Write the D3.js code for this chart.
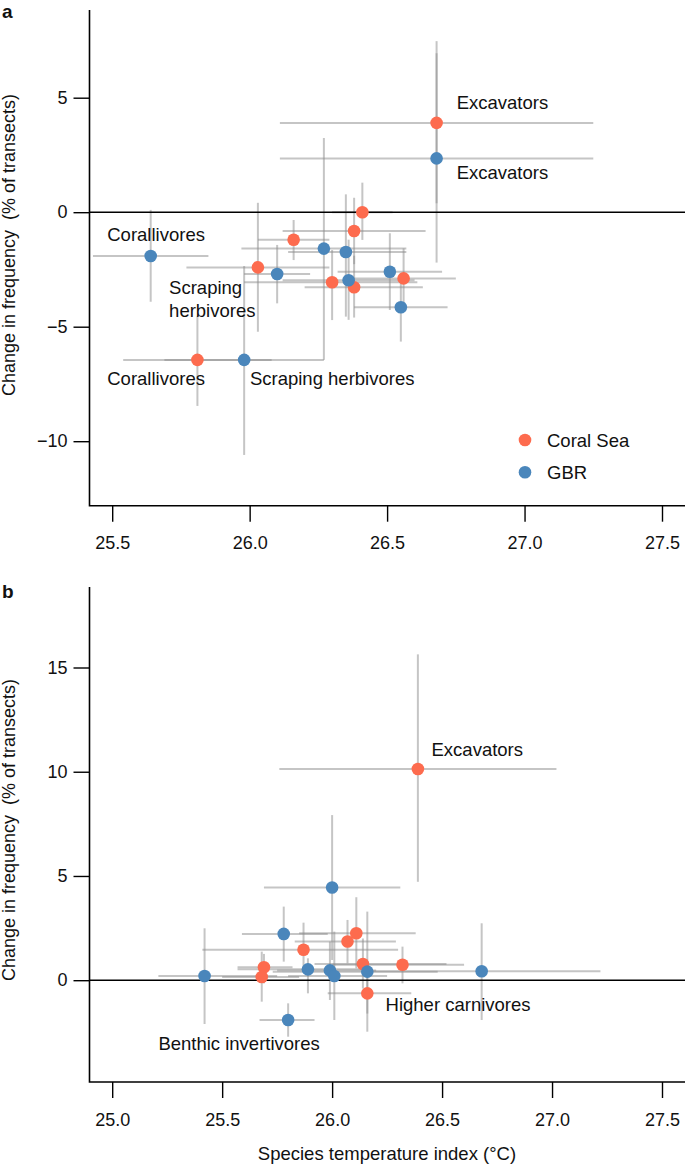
<!DOCTYPE html>
<html>
<head>
<meta charset="utf-8">
<script src="https://cdn.jsdelivr.net/npm/d3@7"></script>
<style>
  body { margin: 0; background: #fff; }
  svg text { font-family: "Liberation Sans", Arial, Helvetica, sans-serif; fill: #111; }
</style>
</head>
<body>
<script>
// each row: [sti, stiLo, stiHi, change, changeLo, changeHi]
const aCoralSea = [
  [26.68, 26.11, 27.25, 3.90, 0.39, 6.94],
  [26.41, 26.30, 26.52, 0.00, -1.21, 1.29],
  [26.38, 26.12, 26.64, -0.82, -2.27, 0.63],
  [26.16, 26.03, 26.29, -1.20, -2.09, -0.34],
  [26.03, 25.77, 26.29, -2.41, -5.22, 0.41],
  [26.30, 25.98, 26.61, -3.06, -4.71, -1.65],
  [26.38, 26.20, 26.63, -3.28, -4.60, -1.90],
  [26.56, 26.37, 26.75, -2.89, -4.13, -1.58],
  [25.81, 25.54, 26.08, -6.45, -8.46, -4.56]
];
const aGBR = [
  [26.68, 26.11, 27.25, 2.35, -2.20, 7.47],
  [26.27, 25.97, 26.57, -1.59, -6.45, 3.24],
  [26.35, 26.14, 26.57, -1.74, -4.56, 0.78],
  [26.10, 25.98, 26.22, -2.70, -3.98, -1.43],
  [26.36, 26.12, 26.60, -2.97, -4.70, -1.20],
  [26.51, 26.32, 26.70, -2.60, -4.27, -0.92],
  [26.55, 26.38, 26.72, -4.15, -5.65, -2.65],
  [25.64, 25.43, 25.85, -1.91, -3.91, 0.10],
  [25.98, 25.69, 26.27, -6.45, -10.6, -2.35]
];
const bCoralSea = [
  [26.39, 25.76, 27.02, 10.13, 4.72, 15.63],
  [26.11, 25.85, 26.38, 2.25, 0.57, 3.98],
  [26.07, 25.83, 26.29, 1.86, 0.81, 2.89],
  [25.87, 25.41, 26.30, 1.46, 0.49, 2.76],
  [25.69, 25.57, 25.82, 0.62, -0.15, 1.26],
  [25.68, 25.50, 25.85, 0.15, -1.03, 1.37],
  [26.14, 25.92, 26.52, 0.78, -0.40, 2.00],
  [26.32, 26.00, 26.60, 0.74, -0.15, 1.61],
  [26.16, 25.98, 26.36, -0.63, -1.60, 0.30]
];
const bGBR = [
  [26.00, 25.69, 26.31, 4.45, 0.97, 7.92],
  [25.78, 25.59, 25.98, 2.22, 0.89, 3.53],
  [25.42, 25.21, 25.75, 0.20, -2.10, 2.49],
  [25.89, 25.57, 26.17, 0.52, -0.63, 1.05],
  [25.99, 25.75, 26.20, 0.47, -0.95, 1.85],
  [26.01, 25.80, 26.25, 0.20, -1.91, 2.33],
  [26.16, 25.73, 26.48, 0.41, -2.47, 3.29],
  [25.80, 25.67, 25.92, -1.91, -2.71, -1.11],
  [26.68, 26.15, 27.22, 0.43, -1.91, 2.73]
];
// annotation text anchored at [sti, change]
const aNotes = [
  ["Excavators", 26.753, 4.49],
  ["Excavators", 26.753, 1.45],
  ["Corallivores", 25.482, -1.24],
  ["Corallivores", 25.482, -7.56],
  ["Scraping herbivores", 26.001, -7.55],
  ["Scraping", 25.707, -3.57],
  ["herbivores", 25.707, -4.58]
];
const bNotes = [
  ["Excavators", 26.452, 10.77],
  ["Higher carnivores", 26.243, -1.48],
  ["Benthic invertivores", 25.21, -3.35]
];
const aTicksX = [25.5, 26.0, 26.5, 27.0, 27.5];
const aTicksY = [-10, -5, 0, 5];
const bTicksX = [25.0, 25.5, 26.0, 26.5, 27.0, 27.5];
const bTicksY = [0, 5, 10, 15];
const regions = ["Coral Sea", "GBR"];
const colors = ["#fd6b4e", "#4a86bb"];

const W = 685, H = 1166;
const svg = d3.select("body").append("svg")
  .attr("width", W).attr("height", H);

const fmtY = d => d < 0 ? "\u2212" + Math.abs(d) : String(d);

function panel(opt) {
  const x = d3.scaleLinear().domain(opt.xDom).range([112.2, 662]);
  const y = d3.scaleLinear().domain(opt.yDom).range(opt.yRange);
  const g = svg.append("g");

  // error bars
  const bars = g.append("g")
    .attr("stroke", "#8c8c8c").attr("stroke-opacity", 0.5).attr("stroke-width", 2);
  opt.series.forEach(rows => {
    bars.selectAll(null).data(rows).enter().append("line")
      .attr("x1", d => x(d[1])).attr("x2", d => x(d[2]))
      .attr("y1", d => y(d[3])).attr("y2", d => y(d[3]));
    bars.selectAll(null).data(rows).enter().append("line")
      .attr("x1", d => x(d[0])).attr("x2", d => x(d[0]))
      .attr("y1", d => y(d[4])).attr("y2", d => y(d[5]));
  });

  // zero line
  g.append("line")
    .attr("x1", opt.left).attr("x2", W)
    .attr("y1", y(0)).attr("y2", y(0))
    .attr("stroke", "#000").attr("stroke-width", 1.6);

  // points
  opt.series.forEach((rows, i) => {
    g.append("g").selectAll("circle").data(rows).enter().append("circle")
      .attr("cx", d => x(d[0])).attr("cy", d => y(d[3]))
      .attr("r", 6.3)
      .attr("fill", colors[i]);
  });

  // axes
  const xAxis = g.append("g")
    .attr("transform", `translate(0,${opt.bottom})`)
    .call(d3.axisBottom(x).tickValues(opt.ticksX).tickFormat(d3.format(".1f"))
      .tickSize(16).tickPadding(15));
  const yAxis = g.append("g")
    .attr("transform", `translate(${opt.left},0)`)
    .call(d3.axisLeft(y).tickValues(opt.ticksY).tickFormat(fmtY)
      .tickSize(16).tickPadding(6));
  [xAxis, yAxis].forEach(ax => {
    ax.select(".domain").remove();
    ax.selectAll("line").attr("stroke", "#000").attr("stroke-width", 1.4);
    ax.selectAll("text").attr("font-size", 18).attr("fill", "#111")
      .attr("font-family", "Liberation Sans, Arial, sans-serif");
  });
  g.append("path")
    .attr("d", `M${opt.left},${opt.top}V${opt.bottom}H${W}`)
    .attr("fill", "none").attr("stroke", "#000").attr("stroke-width", 1.6);

  // annotations
  g.append("g").selectAll("text").data(opt.notes).enter().append("text")
    .attr("x", d => x(d[1])).attr("y", d => y(d[2]))
    .attr("font-size", 18.5)
    .text(d => d[0]);

  // y title
  g.append("text")
    .attr("transform", `translate(15,${opt.titleY}) rotate(-90)`)
    .attr("text-anchor", "middle")
    .attr("font-size", 18)
    .attr("xml:space", "preserve")
    .text("Change in frequency  (% of transects)");

  // panel letter
  g.append("text")
    .attr("x", 2).attr("y", opt.letterY)
    .attr("font-size", 19).attr("font-weight", "bold")
    .text(opt.letter);

  return { x, y, g };
}

const pa = panel({
  letter: "a", letterY: 17.5,
  xDom: [25.5, 27.5], yDom: [-10, 5], yRange: [441.2, 97.7],
  left: 89.5, top: 10, bottom: 505.7, titleY: 245,
  ticksX: aTicksX, ticksY: aTicksY,
  series: [aCoralSea, aGBR], notes: aNotes
});

const pb = panel({
  letter: "b", letterY: 598,
  xDom: [25.0, 27.5], yDom: [0, 15], yRange: [980.2, 667.5],
  left: 89.5, top: 587, bottom: 1082, titleY: 830,
  ticksX: bTicksX, ticksY: bTicksY,
  series: [bCoralSea, bGBR], notes: bNotes
});

// legend (panel a)
const legend = pa.g.append("g").selectAll("g").data(regions).enter().append("g")
  .attr("transform", (d, i) => `translate(525,${440 + i * 32.3})`);
legend.append("circle").attr("r", 6.3).attr("fill", (d, i) => colors[i]);
legend.append("text").attr("x", 22).attr("y", 6.5)
  .attr("font-size", 18.5).text(d => d);

// x title
svg.append("text")
  .attr("x", 387).attr("y", 1160)
  .attr("text-anchor", "middle")
  .attr("font-size", 18.5)
  .text("Species temperature index (\u00B0C)");
</script>
</body>
</html>
